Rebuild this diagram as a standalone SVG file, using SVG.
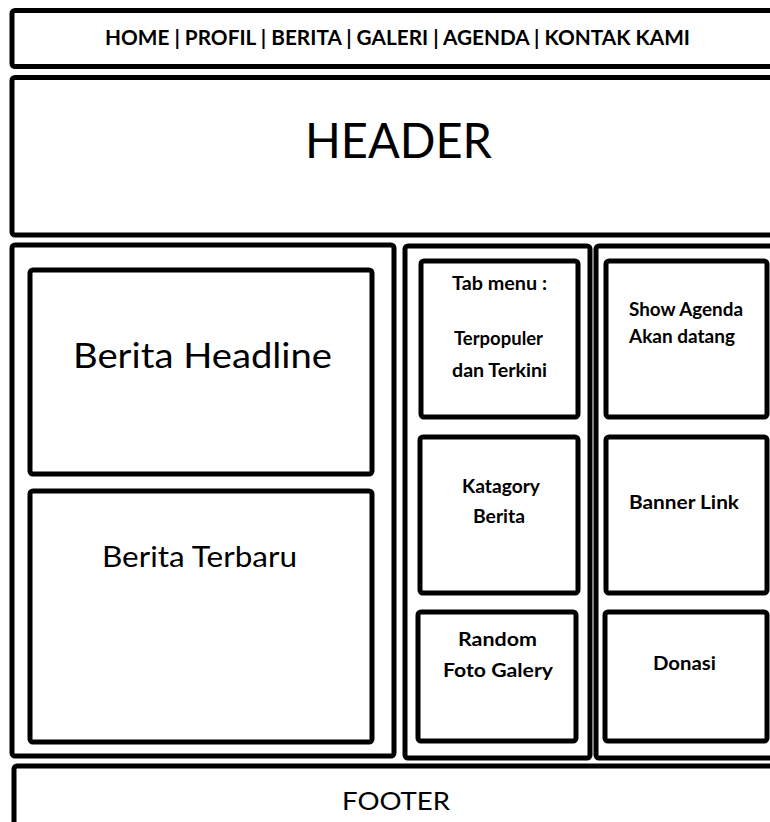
<svg xmlns="http://www.w3.org/2000/svg" width="770" height="822" viewBox="0 0 770 822">
<style>
.box{fill:#ffffff;stroke:#000000;stroke-width:5;}
.t{font-family:Lato,"Open Sans","Liberation Sans",sans-serif;fill:#000000;text-anchor:middle;}
.b{font-weight:bold;}
.s{font-size:18px;font-weight:bold;}
</style>
<rect x="0" y="0" width="770" height="822" fill="#ffffff"/>
<g id="nav">
<rect class="box" x="12" y="10.5" width="800" height="56" rx="3"/>
<text class="t b" x="397.5" y="45" font-size="21.5" textLength="585" lengthAdjust="spacingAndGlyphs">HOME | PROFIL | BERITA | GALERI | AGENDA | KONTAK KAMI</text>
</g>
<g id="header">
<rect class="box" x="12" y="77.5" width="800" height="157.5" rx="3"/>
<text class="t" x="398.5" y="158" font-size="49" textLength="187" lengthAdjust="spacingAndGlyphs">HEADER</text>
</g>
<g id="left-panel">
<rect class="box" x="12" y="245" width="382" height="511" rx="3"/>
</g>
<g id="berita-headline">
<rect class="box" x="30" y="270" width="342" height="204" rx="3"/>
<text class="t" x="202.5" y="368" font-size="35" textLength="259" lengthAdjust="spacingAndGlyphs">Berita Headline</text>
</g>
<g id="berita-terbaru">
<rect class="box" x="30" y="491" width="342" height="251" rx="3"/>
<text class="t" x="199.5" y="567" font-size="28" textLength="195" lengthAdjust="spacingAndGlyphs">Berita Terbaru</text>
</g>
<g id="middle-panel">
<rect class="box" x="405" y="246" width="185" height="512" rx="3"/>
</g>
<g id="tab-menu">
<rect class="box" x="421" y="261" width="157" height="156" rx="3"/>
<text class="t s" x="499.5" y="290" textLength="95" lengthAdjust="spacingAndGlyphs">Tab menu :</text>
<text class="t s" x="498.5" y="345" textLength="89" lengthAdjust="spacingAndGlyphs">Terpopuler</text>
<text class="t s" x="499.5" y="377" textLength="95" lengthAdjust="spacingAndGlyphs">dan Terkini</text>
</g>
<g id="katagory-berita">
<rect class="box" x="420" y="437" width="158" height="156" rx="3"/>
<text class="t s" x="501" y="493" textLength="78" lengthAdjust="spacingAndGlyphs">Katagory</text>
<text class="t s" x="499" y="523" textLength="52" lengthAdjust="spacingAndGlyphs">Berita</text>
</g>
<g id="random-foto-galery">
<rect class="box" x="418" y="612" width="158" height="129" rx="3"/>
<text class="t s" x="497.5" y="646" textLength="79" lengthAdjust="spacingAndGlyphs">Random</text>
<text class="t s" x="498" y="677" textLength="110" lengthAdjust="spacingAndGlyphs">Foto Galery</text>
</g>
<g id="right-panel">
<rect class="box" x="596" y="246" width="220" height="512" rx="3"/>
</g>
<g id="show-agenda">
<rect class="box" x="606" y="261" width="161" height="156" rx="3"/>
<text class="t s" x="686" y="316" textLength="114" lengthAdjust="spacingAndGlyphs">Show Agenda</text>
<text class="t s" x="682" y="343" textLength="106" lengthAdjust="spacingAndGlyphs">Akan datang</text>
</g>
<g id="banner-link">
<rect class="box" x="606" y="437" width="161" height="156" rx="3"/>
<text class="t s" x="684" y="509" textLength="110" lengthAdjust="spacingAndGlyphs">Banner Link</text>
</g>
<g id="donasi">
<rect class="box" x="605" y="612" width="162" height="129" rx="3"/>
<text class="t s" x="684.5" y="670" textLength="63" lengthAdjust="spacingAndGlyphs">Donasi</text>
</g>
<g id="footer">
<rect class="box" x="14" y="766" width="800" height="100" rx="3"/>
<text class="t" x="396" y="810" font-size="25" textLength="108" lengthAdjust="spacingAndGlyphs">FOOTER</text>
</g>
</svg>
